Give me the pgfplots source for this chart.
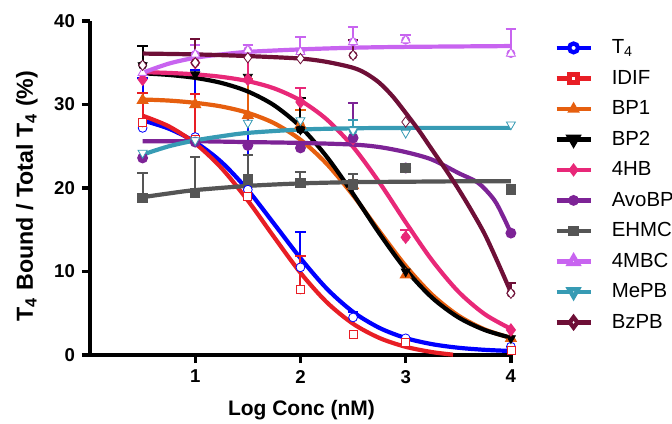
\documentclass[border=0pt]{standalone}
\usepackage{fontspec}
\setmainfont{Liberation Sans}
\usepackage{pgfplots}
\pgfplotsset{compat=1.18}

\definecolor{cT}{RGB}{0,0,255}
\definecolor{cI}{RGB}{232,30,37}
\definecolor{cBa}{RGB}{230,95,15}
\definecolor{cBb}{RGB}{0,0,0}
\definecolor{cH}{RGB}{232,40,120}
\definecolor{cA}{RGB}{125,35,150}
\definecolor{cE}{RGB}{85,85,85}
\definecolor{cM}{RGB}{200,100,240}
\definecolor{cP}{RGB}{55,155,180}
\definecolor{cZ}{RGB}{110,15,55}

\pgfplotsset{
  crv/.style={smooth, no marks, line width=2.1pt, forget plot},
  eb/.style={only marks, mark=none, forget plot,
    error bars/y dir=plus, error bars/y explicit,
    error bars/error bar style={line width=1pt},
    error bars/error mark options={rotate=90, line width=1pt, mark size=2.6pt}},
  pts/.style={only marks, forget plot, mark options={solid, line width=1pt}},
  lg/.style={line width=2.1pt, mark options={solid, line width=1pt}},
}
\newcommand{\lgtxt}[1]{\hspace*{2pt}\rule[-2pt]{0pt}{9.5pt}#1}

\begin{document}
\begin{tikzpicture}
\begin{axis}[
  width=211.5pt, height=167pt, scale only axis,
  xmin=0, xmax=4.02, ymin=0, ymax=40,
  axis lines=left,
  axis line style={line width=2pt, -},
  xtick={1,2,3,4}, ytick={0,10,20,30,40},
  tick style={line width=1.6pt, black},
  tick align=outside, major tick length=4pt,
  tick label style={font=\fontsize{9.3}{10}\selectfont\bfseries},
  /pgf/number format/assume math mode=true,
  xlabel={Log Conc (nM)},
  ylabel={T\textsubscript{4} Bound / Total T\textsubscript{4} (\%)},
  every axis x label/.style={at={(axis description cs:0.5,-0.165)}, anchor=center,
    font=\fontsize{10.5}{12}\selectfont\bfseries},
  every axis y label/.style={at={(axis description cs:-0.149,0.476)}, anchor=center, rotate=90,
    font=\fontsize{11.6}{13}\selectfont\bfseries},
  clip=false,
  legend style={at={(1,1)}, anchor=north west, xshift=20.5pt, yshift=-8.75pt,
    draw=none, fill=none, inner sep=0pt,
    font=\fontsize{10.2}{12}\selectfont,
    nodes={inner sep=0pt},
    row sep=6.25pt, column sep=7.5pt},
  legend cell align=left,
]
\coordinate (O) at (axis cs:0,0);

% T4
\addplot[crv, cT] coordinates {(0.5,28.1)(0.75,27.1)(1,25.5)(1.25,23.1)(1.5,19.75)(1.75,15.7)(2,11.6)(2.25,7.95)(2.5,5.16)(2.75,3.25)(3,2.03)(3.25,1.3)(3.5,0.87)(3.75,0.62)(4,0.48)};
\addplot[eb, cT] coordinates {(0.5,27.2) +- (0,6.0) (1,26.1) +- (0,8.0) (1.5,19.8) +- (0,8.6) (2,10.5) +- (0,4.2) (2.5,4.5) +- (0,0.6)};
\addplot[pts, cT, mark=*, mark size=2.2pt, mark options={fill=white}] coordinates {(0.5,27.2)(1,26.1)(1.5,19.8)(2,10.5)(2.5,4.5)(3,2.0)(4,1.0)};

% IDIF
\addplot[crv, cI] coordinates {(0.5,28.66)(0.75,27.38)(1,25.34)(1.25,22.38)(1.5,18.5)(1.75,14.11)(2,9.85)(2.25,6.32)(2.5,3.74)(2.75,2.04)(3,0.98)(3.25,0.35)(3.45,0.04)};
\addplot[eb, cI] coordinates {(0.5,27.8) +- (0,3.6) (1,25.8) +- (0,5.5) (2,7.8) +- (0,4.1)};
\addplot[pts, cI, mark=square*, mark size=2pt, mark options={fill=white}] coordinates {(0.5,27.8)(1,25.8)(1.5,19.0)(2,7.8)(2.5,2.5)(3,1.5)(4,0.5)};

% BP1
\addplot[crv, cBa] coordinates {(0.5,30.6)(0.75,30.47)(1,30.2)(1.25,29.76)(1.5,29.0)(1.75,27.76)(2,25.78)(2.25,22.89)(2.5,19.12)(2.75,14.83)(3,10.68)(3.25,7.24)(3.5,4.73)(3.75,3.07)(4,2.04)};
\addplot[eb, cBa] coordinates {(1.5,28.7) +- (0,4.3) (2,27.5) +- (0,1.8)};
\addplot[pts, cBa, mark=triangle*, mark size=2.6pt] coordinates {(0.5,30.5)(1,30.0)(1.5,28.7)(2,27.5)(2.5,20.3)(3,9.6)(4,2.0)};

% BP2
\addplot[crv, cBb] coordinates {(0.5,33.74)(0.75,33.54)(1,33.19)(1.25,32.58)(1.5,31.56)(1.75,29.9)(2,27.34)(2.25,23.74)(2.5,19.3)(2.75,14.56)(3,10.25)(3.25,6.87)(3.5,4.51)(3.75,3.0)(4,2.07)};
\addplot[eb, cBb] coordinates {(0.5,34.7) +- (0,2.3) (2,27.0) +- (0,3.8)};
\addplot[pts, cBb, mark=triangle*, mark size=2.6pt, mark options={rotate=180}] coordinates {(0.5,34.7)(1,33.6)(1.5,33.3)(2,27.0)(2.5,20.3)(3,10.0)(4,2.0)};

% 4HB
\addplot[crv, cH] coordinates {(0.5,33.88)(0.75,33.78)(1,33.61)(1.25,33.31)(1.5,32.8)(1.75,31.93)(2,30.48)(2.25,28.21)(2.5,24.93)(2.75,20.67)(3,15.9)(3.25,11.35)(3.5,7.6)(3.75,4.9)(4,3.13)};
\addplot[eb, cH] coordinates {(1.5,33.0) +- (0,4.1) (2,30.3) +- (0,1.7) (3,14.1) +- (0,0.9)};
\addplot[pts, cH, mark=diamond*, mark size=2.6pt] coordinates {(0.5,33.0)(1,35.0)(1.5,33.0)(2,30.3)(2.5,25.9)(3,14.1)(4,3.0)};

% AvoBP
\addplot[crv, cA] coordinates {(0.5,25.6)(1,25.6)(1.5,25.5)(2,25.4)(2.5,25.2)(2.75,24.9)(3,24.3)(3.25,23.4)(3.5,21.8)(3.69,20.6)(3.84,18.6)(3.93,16.5)(4,14.6)};
\addplot[eb, cA] coordinates {(2.5,26.0) +- (0,4.2)};
\addplot[pts, cA, mark=*, mark size=2.2pt] coordinates {(0.5,23.6)(1,25.5)(1.5,25.1)(2,24.8)(2.5,26.0)(3,22.4)(4,14.6)};

% EHMC
\addplot[crv, cE] coordinates {(0.5,18.9)(0.75,19.35)(1,19.75)(1.5,20.25)(2,20.55)(2.5,20.7)(3,20.75)(3.5,20.8)(4,20.8)};
\addplot[eb, cE] coordinates {(0.5,18.8) +- (0,3.0) (1,19.4) +- (0,4.3) (1.5,21.0) +- (0,2.9) (2,20.6) +- (0,1.3) (2.5,20.4) +- (0,1.3)};
\addplot[pts, cE, mark=square*, mark size=2.1pt] coordinates {(0.5,18.8)(1,19.4)(1.5,21.0)(2,20.6)(2.5,20.4)(3,22.4)(4,19.8)};

% 4MBC
\addplot[crv, cM] coordinates {(0.5,33.8)(0.75,34.9)(1,35.6)(1.25,36.0)(1.5,36.3)(2,36.6)(2.5,36.8)(3,36.9)(4,37.0)};
\addplot[eb, cM] coordinates {(1,36.0) +- (0,1.1) (1.5,36.5) +- (0,0.6) (2,36.3) +- (0,1.8) (2.5,37.5) +- (0,1.8) (3,37.7) +- (0,0.6) (4,36.1) +- (0,2.9)};
\addplot[pts, cM, mark=triangle*, mark size=2.6pt, mark options={fill=white}] coordinates {(0.5,33.8)(1,36.0)(1.5,36.5)(2,36.3)(2.5,37.5)(3,37.7)(4,36.1)};

% MePB
\addplot[crv, cP] coordinates {(0.5,24.0)(0.75,25.0)(1,25.7)(1.25,26.2)(1.5,26.6)(2,27.0)(2.5,27.15)(3,27.2)(4,27.2)};
\addplot[eb, cP] coordinates {(2.5,26.9) +- (0,1.2)};
\addplot[pts, cP, mark=triangle*, mark size=2.6pt, mark options={rotate=180, fill=white}] coordinates {(0.5,24.2)(1,25.7)(1.5,27.8)(2,28.1)(2.5,26.9)(3,26.6)(4,27.6)};

% BzPB
\addplot[crv, cZ] coordinates {(0.5,36.1)(1,36.0)(1.5,35.8)(2,35.5)(2.25,35.1)(2.5,34.4)(2.625,33.7)(2.75,32.6)(2.875,31.0)(3,29.0)(3.125,26.9)(3.25,24.6)(3.375,22.3)(3.5,19.9)(3.625,17.3)(3.75,14.5)(3.875,11.1)(4,7.5)};
\addplot[eb, cZ] coordinates {(1,35.0) +- (0,2.8) (2.5,35.9) +- (0,1.8) (4,7.4) +- (0,1.2)};
\addplot[pts, cZ, mark=diamond*, mark size=2.6pt, mark options={fill=white}] coordinates {(0.5,34.7)(1,35.0)(1.5,35.6)(2,35.5)(2.5,35.9)(3,27.9)(4,7.4)};

% legend
\addlegendimage{lg, cT, mark=*, mark size=2.2pt, mark options={fill=white}}
\addlegendentry{\lgtxt{T\textsubscript{4}}}
\addlegendimage{lg, cI, mark=square*, mark size=2pt, mark options={fill=white}}
\addlegendentry{\lgtxt{IDIF}}
\addlegendimage{lg, cBa, mark=triangle*, mark size=2.6pt}
\addlegendentry{\lgtxt{BP1}}
\addlegendimage{lg, cBb, mark=triangle*, mark size=2.6pt, mark options={rotate=180}}
\addlegendentry{\lgtxt{BP2}}
\addlegendimage{lg, cH, mark=diamond*, mark size=2.6pt}
\addlegendentry{\lgtxt{4HB}}
\addlegendimage{lg, cA, mark=*, mark size=2.2pt}
\addlegendentry{\lgtxt{AvoBP}}
\addlegendimage{lg, cE, mark=square*, mark size=2.1pt}
\addlegendentry{\lgtxt{EHMC}}
\addlegendimage{lg, cM, mark=triangle*, mark size=2.6pt, mark options={fill=white}}
\addlegendentry{\lgtxt{4MBC}}
\addlegendimage{lg, cP, mark=triangle*, mark size=2.6pt, mark options={rotate=180, fill=white}}
\addlegendentry{\lgtxt{MePB}}
\addlegendimage{lg, cZ, mark=diamond*, mark size=2.6pt, mark options={fill=white}}
\addlegendentry{\lgtxt{BzPB}}
\end{axis}
\pgfresetboundingbox
\path ([shift={(-45pt,-34pt)}]O) rectangle ([shift={(291pt,177.5pt)}]O);
\end{tikzpicture}
\end{document}
